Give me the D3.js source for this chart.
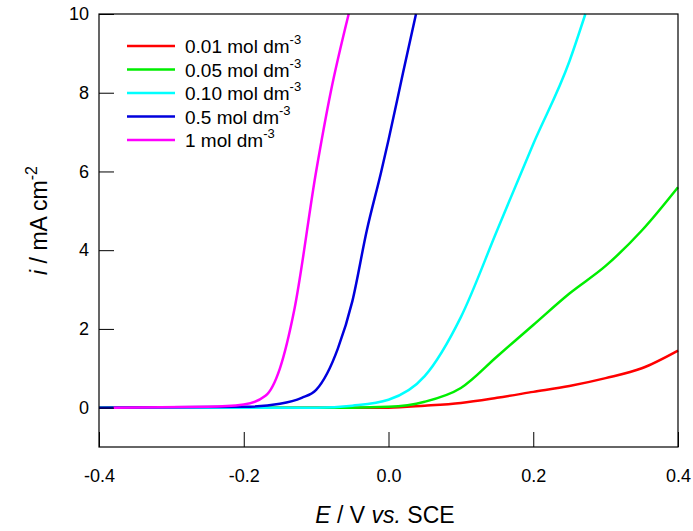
<!DOCTYPE html>
<html><head><meta charset="utf-8">
<script src="https://cdn.jsdelivr.net/npm/d3@7"></script>
<style>body{margin:0;background:#fff}text{font-family:Arial,"Liberation Sans",sans-serif}</style>
</head><body><svg id="c" width="693" height="531"></svg>
<script>
const labels = ["0.01", "0.05", "0.10", "0.5", "1"];
const colors = ["#ff0000", "#00ee00", "#00ffff", "#0000dd", "#ff00ff"];
const xTicks = [-0.4, -0.2, 0.0, 0.2, 0.4];
const yTicks = [0, 2, 4, 6, 8, 10];
const red = [[-0.4,0],[0,0],[0.05,0.05],[0.1,0.12],[0.15,0.25],[0.2,0.4],[0.25,0.55],[0.3,0.75],[0.35,1.0],[0.4,1.45]];
const green = [[-0.4,0],[-0.05,0],[0,0.02],[0.05,0.15],[0.1,0.5],[0.15,1.3],[0.2,2.1],[0.25,2.9],[0.3,3.6],[0.35,4.5],[0.4,5.6]];
const cyan = [[-0.4,0],[-0.1,0],[-0.05,0.05],[0,0.2],[0.05,0.8],[0.1,2.3],[0.15,4.5],[0.2,6.7],[0.25,8.8],[0.272,10]];
const blue = [[-0.4,0],[-0.2,0.02],[-0.15,0.1],[-0.12,0.25],[-0.1,0.45],[-0.07,1.5],[-0.05,2.7],[-0.03,4.5],[-0.01,6],[0,6.8],[0.02,8.5],[0.038,10]];
const magenta = [[-0.38,0],[-0.25,0.02],[-0.2,0.08],[-0.17,0.3],[-0.15,1],[-0.13,2.5],[-0.1,6],[-0.08,8],[-0.055,10]];
const series = [red, green, cyan, blue, magenta];

const svg = d3.select("#c");
const m = {l: 99, r: 15, t: 14, b: 84};
const W = 693 - m.l - m.r, H = 531 - m.t - m.b;
const x = d3.scaleLinear().domain([-0.4, 0.4]).range([m.l, m.l + W]);
const y = d3.scaleLinear().domain([-1, 10]).range([m.t + H, m.t]);

const line = d3.line().x(d => x(d[0])).y(d => y(d[1])).curve(d3.curveMonotoneX);
const plot = svg.append("g");
series.forEach((s, i) => {
  plot.append("path").attr("d", line(s)).attr("fill", "none")
    .attr("stroke", colors[i]).attr("stroke-width", 2.5);
});

svg.append("g").attr("transform", `translate(0,${m.t + H})`)
  .call(d3.axisBottom(x).tickValues(xTicks).tickFormat(d => d.toFixed(1)).tickSizeInner(-15).tickSizeOuter(0).tickPadding(22))
  .call(g => g.select(".domain").remove());
svg.append("g").attr("transform", `translate(${m.l},0)`)
  .call(d3.axisLeft(y).tickValues(yTicks).tickSizeInner(-15).tickSizeOuter(0).tickPadding(10))
  .call(g => g.select(".domain").remove());
svg.selectAll(".tick text").style("font-size", "18px").attr("fill", "#000")
  .style("font-family", "Arial, 'Liberation Sans', sans-serif");
svg.selectAll(".tick line").attr("stroke", "#000");
svg.append("rect").attr("x", m.l).attr("y", m.t).attr("width", W).attr("height", H)
  .attr("fill", "none").attr("stroke", "#000").attr("stroke-width", 1.2);

const lg = svg.append("g").attr("transform", "translate(127,46)");
labels.forEach((l, i) => {
  const gy = i * 23.5;
  lg.append("line").attr("x1", 0).attr("x2", 48).attr("y1", gy).attr("y2", gy)
    .attr("stroke", colors[i]).attr("stroke-width", 2.5);
  const t = lg.append("text").attr("x", 58).attr("y", gy + 7).style("font-size", "19px");
  t.append("tspan").text(l + " mol dm");
  t.append("tspan").attr("dy", -9).style("font-size", "13px").text("-3");
});

const xl = svg.append("text").attr("x", 385).attr("y", 523).attr("text-anchor", "middle").style("font-size", "23px");
xl.append("tspan").attr("font-style", "italic").text("E");
xl.append("tspan").text(" / V ");
xl.append("tspan").attr("font-style", "italic").text("vs.");
xl.append("tspan").text(" SCE");

const yl = svg.append("text").attr("transform", `translate(47,${m.t + H / 2 - 10}) rotate(-90)`)
  .attr("text-anchor", "middle").style("font-size", "23px");
yl.append("tspan").attr("font-style", "italic").text("i");
yl.append("tspan").text(" / mA cm");
yl.append("tspan").attr("dy", -10).style("font-size", "16px").text("-2");
</script></body></html>
